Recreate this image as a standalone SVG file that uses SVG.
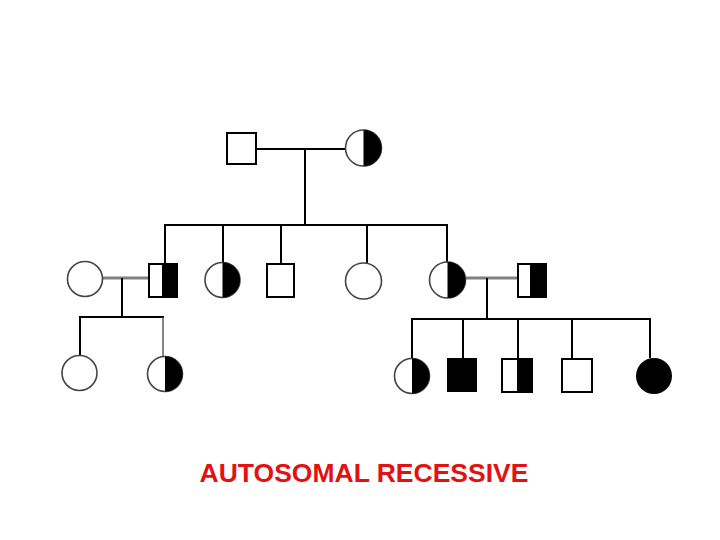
<svg xmlns="http://www.w3.org/2000/svg" width="720" height="540" viewBox="0 0 720 540">
<style>
.ln{stroke:#000;stroke-width:2;fill:none}
.mar{stroke:#808080;stroke-width:3;fill:none}
.sq{fill:#fff;stroke:#000;stroke-width:2}
.ci{fill:#fff;stroke:#444;stroke-width:1.6}
.blk{fill:#000;stroke:none}
.lbl{font-family:"Liberation Sans",Arial,sans-serif;font-weight:bold;font-size:26.5px;fill:#e31212}
</style>
<rect width="720" height="540" fill="#fff"/>
<g id="connectors">
<line class="ln" x1="256" y1="149" x2="345" y2="149"/>
<line class="ln" x1="305" y1="149" x2="305" y2="225"/>
<line class="ln" x1="164" y1="225" x2="448" y2="225"/>
<line class="ln" x1="165" y1="225" x2="165" y2="264"/>
<line class="ln" x1="223" y1="225" x2="223" y2="262"/>
<line class="ln" x1="281" y1="225" x2="281" y2="264"/>
<line class="ln" x1="367" y1="225" x2="367" y2="263"/>
<line class="ln" x1="447" y1="225" x2="447" y2="262"/>
<line class="mar" x1="102" y1="278" x2="148" y2="278"/>
<line class="mar" x1="466" y1="278" x2="518" y2="278"/>
<line class="ln" x1="122" y1="278" x2="122" y2="317"/>
<line class="ln" x1="79" y1="317" x2="164" y2="317"/>
<line class="ln" x1="80" y1="317" x2="80" y2="356"/>
<line stroke="#444" stroke-width="1.3" x1="163" y1="317" x2="163" y2="357"/>
<line class="ln" x1="487" y1="278" x2="487" y2="319"/>
<line class="ln" x1="411" y1="319" x2="651" y2="319"/>
<line class="ln" x1="412" y1="319" x2="412" y2="358"/>
<line class="ln" x1="463" y1="319" x2="463" y2="358"/>
<line class="ln" x1="518" y1="319" x2="518" y2="359"/>
<line class="ln" x1="572" y1="319" x2="572" y2="359"/>
<line class="ln" x1="650" y1="319" x2="650" y2="358"/>
</g>
<g id="g1-father"><rect class="sq" x="227" y="133" width="29" height="31"/></g>
<g id="g1-mother"><circle class="ci" cx="363.5" cy="148" r="18"/><path class="blk" d="M363.5,130 A18,18 0 0 1 363.5,166 Z"/></g>
<g id="g2-wife1"><circle class="ci" cx="85" cy="279" r="17.5"/></g>
<g id="g2-son1"><rect class="sq" x="149" y="264" width="28" height="33"/><rect class="blk" x="162" y="264" width="15" height="33"/><rect x="149" y="264" width="28" height="33" fill="none" stroke="#000" stroke-width="2"/></g>
<g id="g2-dau1"><circle class="ci" cx="222.5" cy="280" r="17.5"/><path class="blk" d="M222.5,262.5 A17.5,17.5 0 0 1 222.5,297.5 Z"/></g>
<g id="g2-son2"><rect class="sq" x="267" y="264" width="27" height="33"/></g>
<g id="g2-dau2"><circle class="ci" cx="363.5" cy="281" r="18"/></g>
<g id="g2-dau3"><circle class="ci" cx="447.5" cy="280" r="18"/><path class="blk" d="M447.5,262 A18,18 0 0 1 447.5,298 Z"/></g>
<g id="g2-husb"><rect class="sq" x="518" y="264" width="28" height="33"/><rect class="blk" x="530" y="264" width="16" height="33"/><rect x="518" y="264" width="28" height="33" fill="none" stroke="#000" stroke-width="2"/></g>
<g id="g3-a"><circle class="ci" cx="79.5" cy="373" r="17.5"/></g>
<g id="g3-b"><circle class="ci" cx="165" cy="374" r="17.5"/><path class="blk" d="M165,356.5 A17.5,17.5 0 0 1 165,391.5 Z"/></g>
<g id="g3-c"><circle class="ci" cx="412" cy="376" r="17.5"/><path class="blk" d="M412,358.5 A17.5,17.5 0 0 1 412,393.5 Z"/></g>
<g id="g3-d"><rect class="blk" x="447" y="358" width="30" height="34"/></g>
<g id="g3-e"><rect class="sq" x="502" y="359" width="30" height="33"/><rect class="blk" x="517" y="359" width="15" height="33"/><rect x="502" y="359" width="30" height="33" fill="none" stroke="#000" stroke-width="2"/></g>
<g id="g3-f"><rect class="sq" x="562" y="359" width="30" height="33"/></g>
<g id="g3-g"><circle cx="654" cy="376" r="18" fill="#000"/></g>
<text class="lbl" x="364" y="482" text-anchor="middle">AUTOSOMAL RECESSIVE</text>
</svg>
